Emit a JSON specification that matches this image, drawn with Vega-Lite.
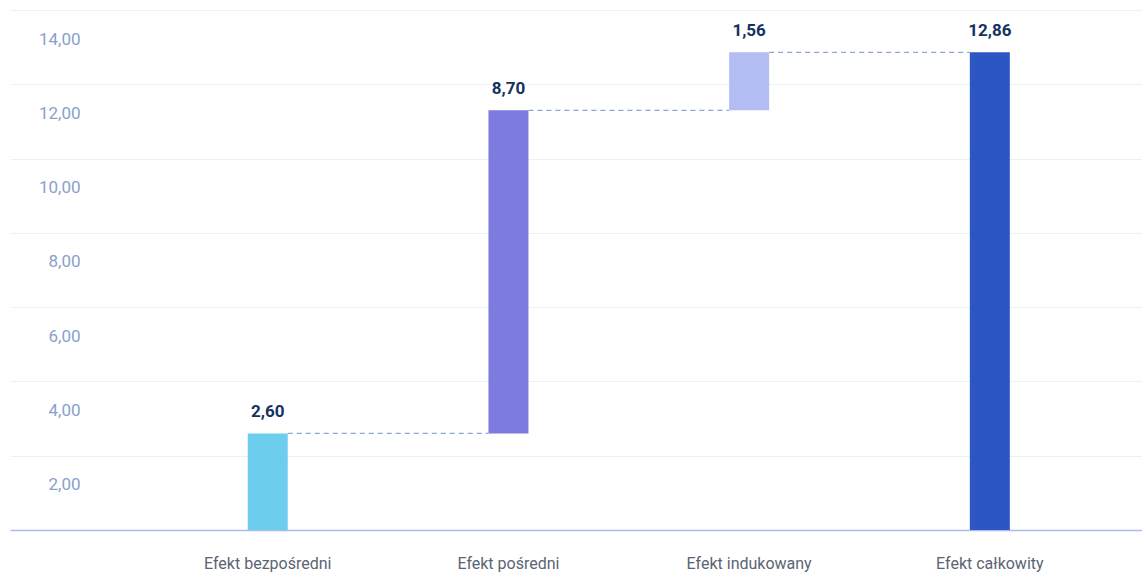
{
  "$schema": "https://vega.github.io/schema/vega-lite/v6.json",
  "width": 1132,
  "height": 520,
  "autosize": {"type": "none"},
  "padding": {"left": 10, "top": 10, "right": 0, "bottom": 45},
  "background": "white",
  "config": {"view": {"stroke": null}},
  "datasets": {
    "bars": [
      {"kategoria": "Efekt bezpośredni", "start": 0, "end": 2.6, "etykieta": "2,60"},
      {"kategoria": "Efekt pośredni", "start": 2.6, "end": 11.3, "etykieta": "8,70"},
      {"kategoria": "Efekt indukowany", "start": 11.3, "end": 12.86, "etykieta": "1,56"},
      {"kategoria": "Efekt całkowity", "start": 0, "end": 12.86, "etykieta": "12,86"}
    ],
    "links": [
      {"od": "Efekt bezpośredni", "do": "Efekt pośredni", "poziom": 2.6},
      {"od": "Efekt pośredni", "do": "Efekt indukowany", "poziom": 11.3},
      {"od": "Efekt indukowany", "do": "Efekt całkowity", "poziom": 12.86}
    ]
  },
  "layer": [
    {
      "data": {"name": "bars"},
      "mark": {"type": "bar", "size": 40},
      "encoding": {
        "x": {
          "field": "kategoria", "type": "nominal", "sort": null,
          "scale": {"paddingInner": 0, "paddingOuter": 0.3515, "align": 0.812},
          "axis": {
            "title": null, "labelAngle": 0, "ticks": false, "domain": true,
            "domainColor": "#a9bde6", "domainWidth": 1.5,
            "labelFont": "Roboto", "labelFontSize": 16, "labelColor": "#5b6473",
            "labelPadding": 25
          }
        },
        "y": {
          "field": "start", "type": "quantitative",
          "scale": {"domain": [0, 14], "nice": false},
          "axis": {
            "title": null, "values": [2, 4, 6, 8, 10, 12, 14],
            "labelExpr": "replace(format(datum.value, '.2f'), '.', ',')",
            "domain": false, "ticks": false, "tickSize": 0,
            "grid": true, "gridColor": "#eef0f7", "gridWidth": 1,
            "labelAlign": "right", "labelPadding": -70, "labelOffset": 29,
            "labelFont": "Roboto", "labelFontSize": 17, "labelColor": "#8aa0cc"
          }
        },
        "y2": {"field": "end"},
        "color": {
          "field": "kategoria", "type": "nominal", "sort": null, "legend": null,
          "scale": {
            "domain": ["Efekt bezpośredni", "Efekt pośredni", "Efekt indukowany", "Efekt całkowity"],
            "range": ["#6dcdec", "#7e7bdf", "#b2bdf4", "#2b56c3"]
          }
        }
      }
    },
    {
      "data": {"name": "links"},
      "mark": {"type": "rule", "strokeDash": [5, 4], "strokeWidth": 1.2, "color": "#8ca4d6", "xOffset": 20, "x2Offset": -20},
      "encoding": {
        "x": {"field": "od", "type": "nominal", "sort": null},
        "x2": {"field": "do"},
        "y": {"field": "poziom", "type": "quantitative"}
      }
    },
    {
      "data": {"name": "bars"},
      "mark": {"type": "text", "baseline": "alphabetic", "dy": -16, "font": "Roboto", "fontSize": 17, "fontWeight": "bold", "color": "#15325f"},
      "encoding": {
        "x": {"field": "kategoria", "type": "nominal", "sort": null},
        "y": {"field": "end", "type": "quantitative"},
        "text": {"field": "etykieta"}
      }
    }
  ]
}
